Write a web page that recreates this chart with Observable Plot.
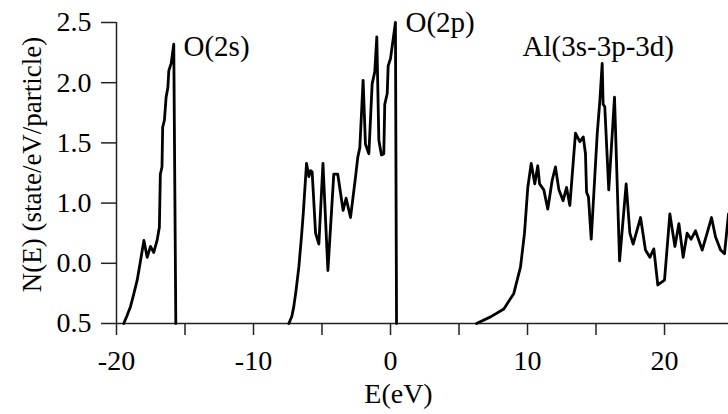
<!DOCTYPE html>
<html>
<head>
<meta charset="utf-8">
<script src="https://cdn.jsdelivr.net/npm/d3@7"></script>
<script src="https://cdn.jsdelivr.net/npm/@observablehq/plot@0.6"></script>
<style>
  html, body { margin: 0; padding: 0; background: #fff; }
</style>
</head>
<body>
<div id="chart"></div>
<script>
// ---- data ----
const o2sE = [-19.47, -19.25, -18.98, -18.75, -18.49, -18.25, -18.0, -17.76, -17.52, -17.28, -17.04, -16.87, -16.80, -16.68, -16.63, -16.50, -16.38, -16.25, -16.18, -16.01, -15.82, -15.67];
const o2sN = [0, 0.06, 0.14, 0.24, 0.36, 0.52, 0.69, 0.55, 0.64, 0.59, 0.69, 0.80, 1.24, 1.30, 1.63, 1.69, 1.88, 1.96, 2.10, 2.16, 2.32, 0];

const o2pE = [-7.42, -7.2, -7.06, -6.9, -6.69, -6.5, -6.37, -6.13, -5.96, -5.84, -5.72, -5.47, -5.23, -4.93, -4.57, -4.14, -3.85, -3.46, -3.24, -2.92, -2.55, -2.39, -2.24, -2.0, -1.83, -1.58, -1.34, -1.15, -1.0, -0.85, -0.66, -0.49, -0.42, -0.24, -0.17, 0.0, 0.36, 0.44];
const o2pN = [0, 0.06, 0.14, 0.27, 0.47, 0.72, 0.91, 1.33, 1.22, 1.27, 1.26, 0.75, 0.66, 1.33, 0.44, 1.24, 1.24, 0.94, 1.04, 0.88, 1.22, 1.38, 1.46, 2.02, 1.49, 1.41, 1.99, 2.09, 2.38, 1.52, 1.40, 1.41, 1.82, 1.91, 2.14, 2.20, 2.50, 0];

const alE = [6.28, 7.3, 8.27, 9.0, 9.49, 9.78, 10.02, 10.27, 10.53, 10.75, 10.88, 11.19, 11.48, 11.8, 12.04, 12.29, 12.6, 12.85, 13.09, 13.5, 13.82, 14.07, 14.23, 14.31, 14.45, 14.65, 15.09, 15.28, 15.45, 15.52, 15.64, 15.93, 16.35, 16.72, 17.2, 17.47, 17.71, 18.25, 18.61, 18.93, 19.22, 19.51, 20.0, 20.39, 20.76, 21.05, 21.36, 21.65, 21.94, 22.26, 22.75, 23.11, 23.43, 23.72, 24.09, 24.38, 24.67];
const alN = [0, 0.055, 0.12, 0.25, 0.47, 0.75, 1.13, 1.33, 1.16, 1.31, 1.16, 1.11, 0.95, 1.19, 1.30, 1.11, 1.02, 1.13, 0.98, 1.58, 1.51, 1.55, 1.41, 1.09, 1.05, 0.70, 1.58, 1.85, 2.16, 1.82, 1.80, 1.11, 1.88, 0.52, 1.16, 0.75, 0.66, 0.88, 0.61, 0.55, 0.62, 0.32, 0.36, 0.91, 0.64, 0.83, 0.55, 0.75, 0.70, 0.77, 0.61, 0.75, 0.88, 0.72, 0.61, 0.58, 0.91];

const seriesNames = ["O(2s)", "O(2p)", "Al(3s-3p-3d)"];
const seriesE = [o2sE, o2pE, alE];
const seriesN = [o2sN, o2pN, alN];

// annotation anchor points (data coordinates)
const labelE = [-15.11, 1.09, 9.64];
const labelN = [2.30, 2.50, 2.30];

const xTicks = [-20, -15, -10, -5, 0, 5, 10, 15, 20];
const xTickLabels = ["-20", "", "-10", "", "0", "", "10", "", "20"];
const yTicks = [0, 0.5, 1.0, 1.5, 2.0, 2.5];
const yTickLabels = ["0.5", "0.0", "1.0", "1.5", "2.0", "2.5"];

const xTitle = "E(eV)";
const yTitle = "N(E) (state/eV/particle)";

// ---- build tables ----
const rows = [];
seriesNames.forEach((name, s) => {
  seriesE[s].forEach((e, i) => rows.push({series: name, E: e, N: seriesN[s][i]}));
});
const labels = seriesNames.map((name, i) => ({name, E: labelE[i], N: labelN[i]}));

const font = "Liberation Serif";
const axisColor = "#222";

const chart = Plot.plot({
  width: 728,
  height: 414,
  marginLeft: 116,
  marginRight: 0,
  marginTop: 22,
  marginBottom: 91,
  style: {fontFamily: font, fontSize: "28px", color: "#000", background: "#fff", overflow: "visible"},
  x: {domain: [-20, 24.67]},
  y: {domain: [0, 2.5]},
  marks: [
    Plot.ruleY([0], {stroke: axisColor, strokeWidth: 1.5}),
    Plot.ruleX([-20], {stroke: axisColor, strokeWidth: 1.5}),
    Plot.axisX({
      ticks: xTicks,
      tickFormat: (d) => xTickLabels[xTicks.indexOf(d)],
      tickSize: 12,
      tickPadding: 15,
      strokeWidth: 1.5,
      stroke: axisColor,
      fill: "#000",
      fontFamily: font,
      fontSize: 28,
      label: null
    }),
    Plot.axisY({
      ticks: yTicks,
      tickFormat: (d) => yTickLabels[yTicks.indexOf(d)],
      tickSize: 15,
      tickPadding: 10,
      strokeWidth: 1.5,
      stroke: axisColor,
      fill: "#000",
      fontFamily: font,
      fontSize: 28,
      label: null
    }),
    Plot.line(rows, {x: "E", y: "N", z: "series", stroke: "#000", strokeWidth: 2.8, strokeLinejoin: "round"}),
    Plot.text(labels, {x: "E", y: "N", text: "name", textAnchor: "start", fontSize: 29, fontFamily: font, fill: "#000"}),
    Plot.text([xTitle], {frameAnchor: "bottom", dx: -24, dy: 79, fontSize: 28, fontFamily: font, fill: "#000"}),
    Plot.text([yTitle], {frameAnchor: "left", textAnchor: "middle", rotate: -90, dx: -84.6, dy: -8.5, fontSize: 27, fontFamily: font, fill: "#000"})
  ]
});

chart.querySelectorAll("text").forEach(t => t.setAttribute("font-family", font));
document.getElementById("chart").appendChild(chart);
</script>
</body>
</html>
